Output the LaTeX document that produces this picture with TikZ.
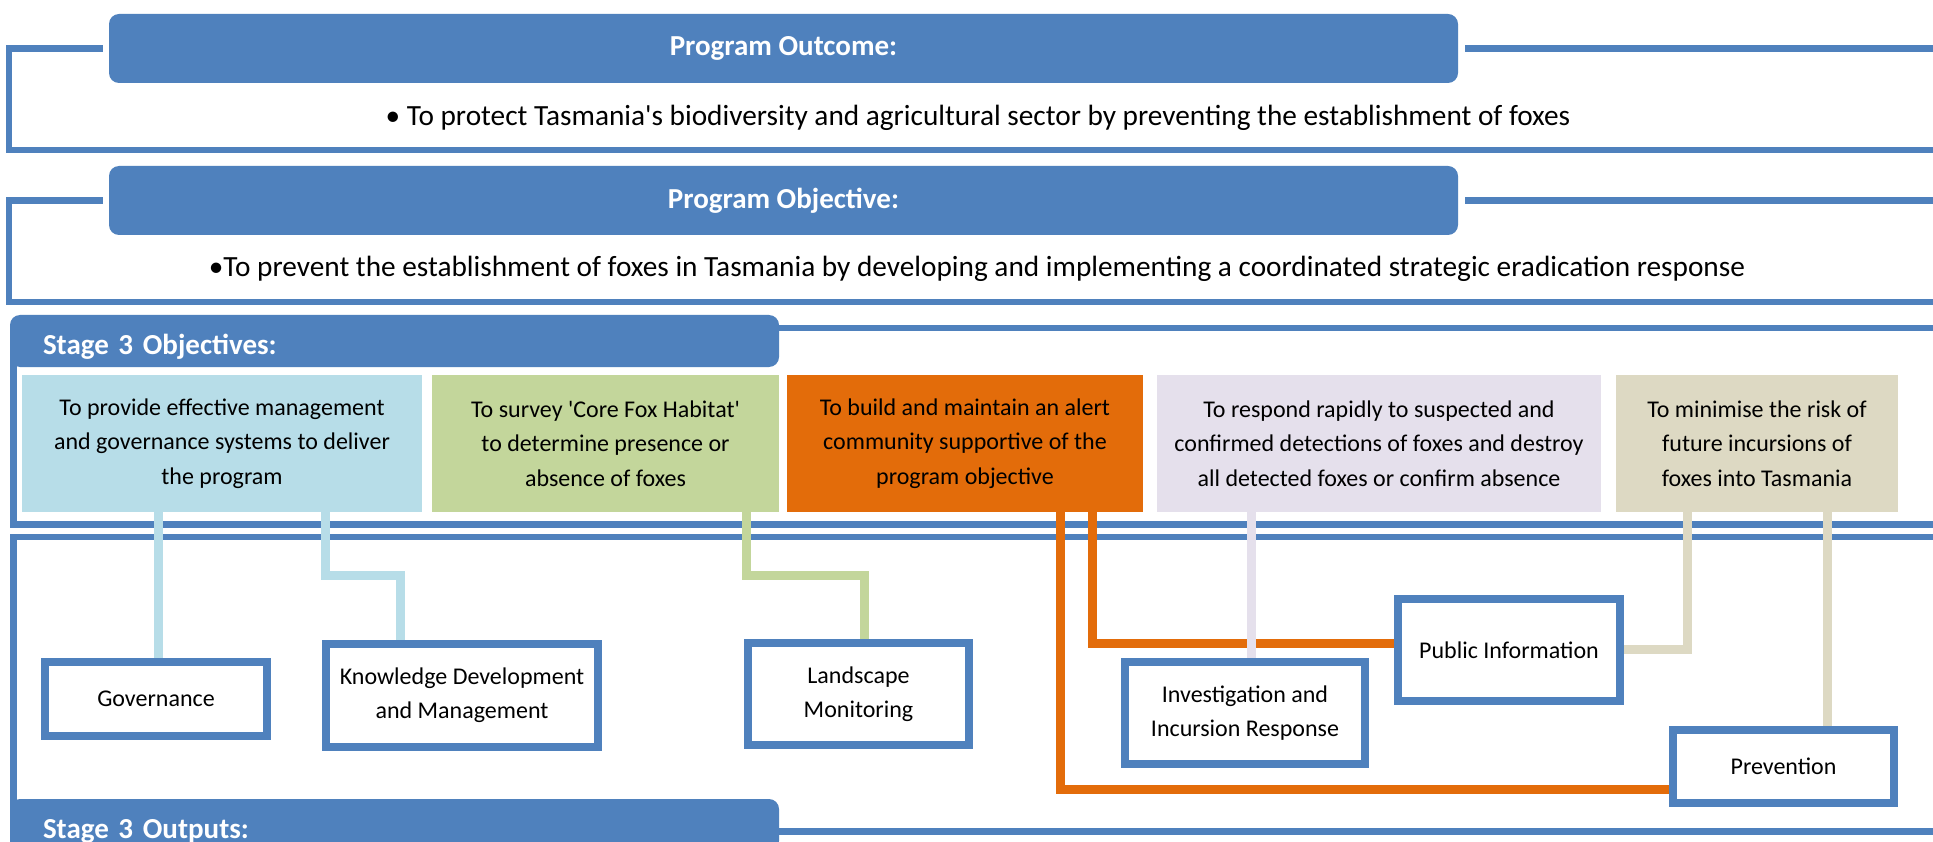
\documentclass[tikz,border=0pt]{standalone}
\usepackage{fontspec}
\setmainfont{Carlito}[Ligatures=TeXOff]
\definecolor{frameblue}{RGB}{79,129,189}
\definecolor{aqua}{RGB}{183,221,232}
\definecolor{olive}{RGB}{195,214,155}
\definecolor{orng}{RGB}{227,108,10}
\definecolor{lilac}{RGB}{229,224,236}
\definecolor{tan}{RGB}{221,217,195}
\pgfdeclarelayer{frames}
\pgfdeclarelayer{links}
\pgfsetlayers{frames,links,main}
\begin{document}
\begin{tikzpicture}[x=1pt,y=-1pt,
    frameline/.style={frameblue,line width=6.5pt},
    linkline/.style={line width=9pt},
    headbox/.style={fill=frameblue,rounded corners=10pt,text=white,inner sep=0pt,
      font=\fontsize{29}{34}\selectfont\bfseries},
    stagebox/.style={headbox,minimum width=769pt,minimum height=52pt,text width=703pt,
      align=left,text height=26pt,text depth=0pt},
    goalbox/.style={inner sep=0pt,minimum height=137pt,align=center,
      font=\fontsize{24}{34.5}\selectfont},
    outbox/.style={draw=frameblue,line width=8pt,fill=white,inner sep=0pt,align=center,
      font=\fontsize{24}{34}\selectfont}]
    \useasboundingbox (0,0) rectangle (1933,842);
    % program level
    \node[headbox,minimum width=1349pt,minimum height=69pt] (outH) at (783.5,48.5) {Program Outcome:};
    \node[headbox,minimum width=1349pt,minimum height=69pt] (objH) at (783.5,200.5) {Program Objective:};
    \node[anchor=base,font=\fontsize{29.3}{34}\selectfont] (outT) at (978,126)
      {• To protect Tasmania's biodiversity and agricultural sector by preventing the establishment of foxes};
    \node[anchor=base,font=\fontsize{29.3}{34}\selectfont] (objT) at (977,277)
      {•To prevent the establishment of foxes in Tasmania by developing and implementing a coordinated strategic eradication response};
    % stage 3
    \node[stagebox] (s3obj) at (394.5,341) {Stage 3 Objectives:};
    \node[stagebox] (s3out) at (394.5,825) {Stage 3 Outputs:};
    \node[goalbox,fill=aqua,minimum width=400pt] (o1) at (222,443.5)
      {To provide effective management\\and governance systems to deliver\\the program};
    \node[goalbox,fill=olive,minimum width=347pt] (o2) at (605.5,443.5)
      {To survey 'Core Fox Habitat'\\to determine presence or\\absence of foxes};
    \node[goalbox,fill=orng,minimum width=356pt] (o3) at (965,443.5)
      {To build and maintain an alert\\community supportive of the\\program objective};
    \node[goalbox,fill=lilac,minimum width=444pt] (o4) at (1379,443.5)
      {To respond rapidly to suspected and\\confirmed detections of foxes and destroy\\all detected foxes or confirm absence};
    \node[goalbox,fill=tan,minimum width=282pt] (o5) at (1757,443.5)
      {To minimise the risk of\\future incursions of\\foxes into Tasmania};
    \node[outbox,minimum width=222pt,minimum height=74pt] (gov) at (156,699) {Governance};
    \node[outbox,minimum width=272pt,minimum height=103pt] (know) at (462,695.5) {Knowledge Development\\and Management};
    \node[outbox,minimum width=221pt,minimum height=102pt] (land) at (858.5,694) {Landscape\\Monitoring};
    \node[outbox,minimum width=240pt,minimum height=102pt] (inv) at (1245,713) {Investigation and\\Incursion Response};
    \node[outbox,minimum width=222pt,minimum height=102pt] (pub) at (1509,650) {Public Information};
    \node[outbox,minimum width=221pt,minimum height=73pt] (prev) at (1783.5,766.5) {Prevention};
    \begin{pgfonlayer}{frames}
      \fill[white] (0,0) rectangle (1933,842);
      \foreach \h/\yb in {outH/150,objH/302} {
        \draw[frameline] ([xshift=-6pt]\h.west) -| (9,\yb) -- (1933,\yb);
        \draw[frameline] ([xshift=7pt]\h.east) -- (1933,\yb-101.5);
      }
      \draw[frameline] (s3obj.east |- 0,328) -- (1933,328);
      \draw[frameline] (13.5,341) -- (13.5,524.5) -- (1933,524.5);
      \draw[frameline] (1933,537) -- (13.5,537) -- (13.5,825);
      \draw[frameline] (s3out.east |- 0,831.5) -- (1933,831.5);
    \end{pgfonlayer}
    \begin{pgfonlayer}{links}
      \draw[linkline,aqua] (o1.south -| 158.5,0) -- (gov.north -| 158.5,0);
      \draw[linkline,aqua] (o1.south -| 325.5,0) |- (400,575.5) -- (know.north -| 400,0);
      \draw[linkline,olive] (o2.south -| 746.5,0) |- (864.5,575.5) -- (land.north -| 864.5,0);
      \draw[linkline,orng] (o3.south -| 1060,0) |- (prev.west |- 0,789.5);
      \draw[linkline,orng] (o3.south -| 1092.5,0) |- (pub.west |- 0,643.5);
      \draw[linkline,lilac] (o4.south -| 1251.5,0) -- (inv.north -| 1251.5,0);
      \draw[linkline,tan] (o5.south -| 1687.5,0) |- (pub.east |- 0,649.5);
      \draw[linkline,tan] (o5.south -| 1827.5,0) -- (prev.north -| 1827.5,0);
    \end{pgfonlayer}
\end{tikzpicture}
\end{document}
